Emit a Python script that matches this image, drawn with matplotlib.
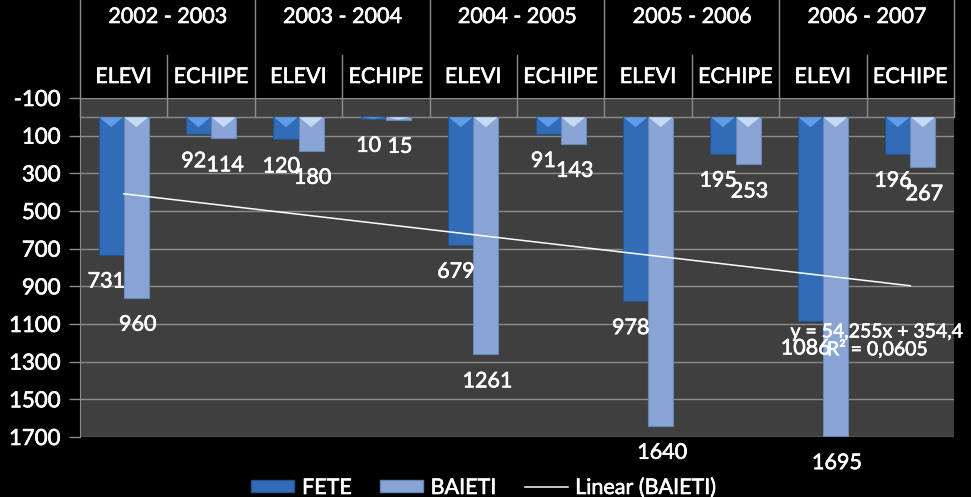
import numpy as np
import matplotlib
matplotlib.use("Agg")
import matplotlib.pyplot as plt
from matplotlib.patches import Patch, Polygon
from matplotlib.lines import Line2D
import matplotlib.transforms as mtransforms
import matplotlib.patheffects as pe

plt.rcParams['font.family'] = ['Lato', 'DejaVu Sans']

years = ["2002 - 2003", "2003 - 2004", "2004 - 2005", "2005 - 2006", "2006 - 2007"]
subcats = ["ELEVI", "ECHIPE"]
fete = [731, 92, 120, 10, 679, 91, 978, 195, 1086, 196]
baieti = [960, 114, 180, 15, 1261, 143, 1640, 253, 1695, 267]
yticks = list(range(-100, 1701, 200))

thick = [pe.withStroke(linewidth=0.45, foreground='white')]

W, H = 971, 497
fig = plt.figure(figsize=(W / 100, H / 100), dpi=100, facecolor='black')
ax = fig.add_axes([80 / W, 60 / H, (954 - 80) / W, (437 - 98) / H])
ax.set_facecolor('#3f3f3f')

n = len(fete)
x = np.arange(n)
bw = 25 / 87
c_fete = '#326cb6'
c_bai = '#88a5d5'
e_fete = '#24528f'
e_bai = '#6986b8'
t_fete = '#5f9ee6'
t_bai = '#c6daf3'
ax.bar(x - bw / 2, fete, width=bw, color=c_fete, edgecolor=e_fete, linewidth=0.8, zorder=3)
ax.bar(x + bw / 2, baieti, width=bw, color=c_bai, edgecolor=e_bai, linewidth=0.8, zorder=3)

# bevel highlight at the top of each bar
for vals, off, tc in ((fete, -bw / 2, t_fete), (baieti, bw / 2, t_bai)):
    for i, v in enumerate(vals):
        d = min(55, v)
        cx = x[i] + off
        ax.add_patch(Polygon([[cx - bw / 2 * 0.95, 2], [cx + bw / 2 * 0.95, 2], [cx, d]],
                             closed=True, facecolor=tc, edgecolor='none', zorder=3.5))

# data labels
for i in range(n):
    ax.annotate(str(fete[i]), (x[i] - bw / 2, fete[i]), xytext=(-3.5, -19.5), textcoords='offset points',
                ha='center', va='center', color='white', fontsize=15.5, zorder=5, annotation_clip=False,
                path_effects=thick)
    ax.annotate(str(baieti[i]), (x[i] + bw / 2, baieti[i]), xytext=(1, -19.5), textcoords='offset points',
                ha='center', va='center', color='white', fontsize=15.5, zorder=5, annotation_clip=False,
                path_effects=thick)

# linear trendline for BAIETI
xe = np.arange(1, n + 1)
slope, intercept = np.polyfit(xe, baieti, 1)
pred = slope * xe + intercept
r2 = 1 - np.sum((np.array(baieti) - pred) ** 2) / np.sum((np.array(baieti) - np.mean(baieti)) ** 2)
ax.plot(x, pred, color='white', lw=1.1, zorder=4)
eq1 = f"y = {slope:.3f}x + {intercept:.1f}".replace('.', ',')
eq2 = f"R² = {r2:.4f}".replace('.', ',')
fig.text(877 / W, 1 - 332 / H, eq1, ha='center', va='center', color='white', fontsize=14,
         path_effects=thick)
fig.text(827 / W, 1 - 349 / H, eq2, ha='left', va='center', color='white', fontsize=14,
         path_effects=thick)

ax.set_ylim(1700, -100)
ax.set_xlim(-0.5, n - 0.5)
ax.set_yticks(yticks)
ax.set_yticklabels([str(t) for t in yticks])
ax.yaxis.grid(True, color='#8c8c8c', lw=1, zorder=0)
ax.set_axisbelow(True)
ax.axhline(0, color='#8c8c8c', lw=1, zorder=2)
ax.tick_params(axis='y', colors='#8c8c8c', labelcolor='white', labelsize=16, length=8, width=1, pad=6)
ax.tick_params(axis='x', bottom=False, labelbottom=False)
for lbl in ax.get_yticklabels():
    lbl.set_path_effects(thick)
for s in ['top', 'right', 'bottom']:
    ax.spines[s].set_visible(False)
ax.spines['left'].set_color('#8c8c8c')

# category label area
trans = mtransforms.blended_transform_factory(ax.transData, ax.transAxes)
y0 = (1700 - 0) / 1800
ax_h = 437 - 98
top_grp = 1 + 98 / ax_h
top_sub = 1 + 43 / ax_h
for b in np.arange(-0.5, n, 2):
    ax.add_line(Line2D([b, b], [y0, top_grp], transform=trans, color='#8c8c8c', lw=1, clip_on=False))
for b in np.arange(0.5, n, 2):
    ax.add_line(Line2D([b, b], [y0, top_sub], transform=trans, color='#8c8c8c', lw=1, clip_on=False))
for i in range(n):
    ax.text(i, 1 + 21 / ax_h, subcats[i % 2], transform=trans, ha='center', va='center',
            color='white', fontsize=15.5, clip_on=False, path_effects=thick)
for g, yr in enumerate(years):
    ax.text(2 * g + 0.5, 1 + 81 / ax_h, yr, transform=trans, ha='center', va='center',
            color='white', fontsize=15.5, clip_on=False, path_effects=thick)

handles = [Patch(facecolor=c_fete, edgecolor=e_fete),
           Patch(facecolor=c_bai, edgecolor=e_bai),
           Line2D([0], [0], color='white', lw=1.1)]
leg = fig.legend(handles, ['FETE', 'BAIETI', 'Linear (BAIETI)'], loc='center', ncol=3,
                 bbox_to_anchor=(484 / W, 1 - 488 / H), frameon=False, fontsize=15.5,
                 labelcolor='white', handlelength=2.0, handleheight=0.5, columnspacing=1.3,
                 handletextpad=0.35)
for t in leg.get_texts():
    t.set_path_effects(thick)

fig.savefig('out.png', dpi=100, facecolor='black')
